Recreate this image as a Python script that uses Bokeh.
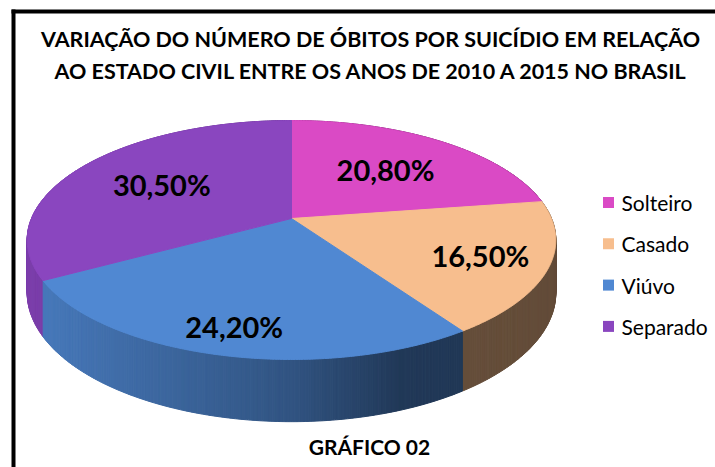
import numpy as np
from bokeh.plotting import figure
from bokeh.models import Range1d, ColumnDataSource
from bokeh.core.properties import value
from bokeh.embed import file_html
from bokeh.resources import INLINE

# ---------------- data ----------------
categories = ["Solteiro", "Casado", "Viúvo", "Separado"]
percent_values = [20.8, 16.5, 24.2, 30.5]
slice_colors = ["#DA4AC5", "#F7BE8E", "#5088D2", "#8A46BF"]
title_lines = ["VARIAÇÃO DO NÚMERO DE ÓBITOS POR SUICÍDIO EM RELAÇÃO",
               "AO ESTADO CIVIL ENTRE OS ANOS DE 2010 A 2015 NO BRASIL"]
footer_text = "GRÁFICO 02"

# ---------------- layout / style ----------------
W, H = 715, 467
CX, CY = 291.0, 218.0       # projected pie centre
A, B = 260.0, 115.6         # horizontal / vertical semi-axes
K = 0.18                    # perspective factor
DEPTH = 51.0                # thickness of the pie
label_radius = [0.60, 0.75, 0.82, 0.61]
FONT = "Lato"


def proj(u, v, depth=0.0):
    s = 1.0 / (1.0 + K * v)
    return CX + A * u * s, CY + (-B * v + depth) * s


def shade(hex_color, f):
    h = hex_color.lstrip("#")
    r, g, b = (int(h[i:i + 2], 16) for i in (0, 2, 4))
    return "#%02x%02x%02x" % (int(r * f), int(g * f), int(b * f))


total = sum(percent_values)
fracs = [v / total for v in percent_values]
bounds = np.concatenate([[0.0], np.cumsum(fracs)]) * 2 * np.pi

p = figure(width=W, height=H, output_backend="svg", toolbar_location=None,
           x_range=Range1d(0, W), y_range=Range1d(H, 0),
           min_border=0, min_border_left=0, min_border_right=0,
           min_border_top=0, min_border_bottom=0)
p.axis.visible = False
p.grid.visible = False
p.outline_line_color = None
p.background_fill_color = "white"
p.border_fill_color = "white"

# frame (left and top visible)
p.segment(x0=[13, 11], y0=[9, 11], x1=[13, W + 2], y1=[H + 2, 11],
          line_color="black", line_width=4)

# ---------------- side of the pie ----------------
step = np.radians(0.5)
thetas = np.arange(0, 2 * np.pi, step)
side = []
for t0 in thetas:
    t1 = t0 + step
    tm = (t0 + t1) / 2
    idx = int(np.searchsorted(bounds, tm, side="right") - 1)
    idx = min(idx, len(categories) - 1)
    xa, ya = proj(np.sin(t0), np.cos(t0))
    xb, yb = proj(np.sin(t1), np.cos(t1))
    xc, yc = proj(np.sin(t1), np.cos(t1), DEPTH)
    xd, yd = proj(np.sin(t0), np.cos(t0), DEPTH)
    xm = (xa + xb) / 2
    f = float(np.interp(xm, [30, 290, 400, 560], [0.90, 0.62, 0.42, 0.40]))
    side.append((np.cos(tm), [xa, xb, xc, xd], [ya, yb, yc, yd],
                 shade(slice_colors[idx], f)))
side.sort(key=lambda s: -s[0])
side_src = ColumnDataSource(dict(xs=[s[1] for s in side], ys=[s[2] for s in side],
                                 c=[s[3] for s in side]))
p.patches("xs", "ys", source=side_src, fill_color="c", line_color="c", line_width=1)

# ---------------- top face ----------------
top_xs, top_ys = [], []
for i in range(len(categories)):
    ts = np.linspace(bounds[i], bounds[i + 1], 200)
    xs, ys = proj(np.sin(ts), np.cos(ts))
    top_xs.append([CX] + list(xs))
    top_ys.append([CY] + list(ys))
top_src = ColumnDataSource(dict(xs=top_xs, ys=top_ys, c=slice_colors))
p.patches("xs", "ys", source=top_src, fill_color="c", line_color="c", line_width=1)

# ---------------- value labels ----------------
lx, ly, lt = [], [], []
for i, v in enumerate(percent_values):
    tm = (bounds[i] + bounds[i + 1]) / 2
    r = label_radius[i]
    x, y = proj(r * np.sin(tm), r * np.cos(tm))
    lx.append(x)
    ly.append(y)
    lt.append(("%.2f" % v).replace(".", ",") + "%")
p.text(x=lx, y=ly, text=lt, text_align="center", text_baseline="middle",
       text_font=value(FONT), text_font_style="bold", text_font_size="29px",
       text_color="black")

# ---------------- legend ----------------
leg_y = [202 + 41.3 * i for i in range(len(categories))]
p.scatter(x=[608] * len(categories), y=leg_y, marker="square", size=11,
          fill_color=slice_colors, line_color=None)
p.text(x=[621] * len(categories), y=leg_y, text=categories, text_align="left",
       text_baseline="middle", text_font=value(FONT), text_font_size="21px",
       text_color="black")

# ---------------- titles ----------------
p.text(x=[370, 371], y=[38, 70], text=title_lines, text_align="center",
       text_baseline="middle", text_font=value(FONT), text_font_style="bold",
       text_font_size="21.5px", text_color="black")
p.text(x=[369], y=[446], text=[footer_text], text_align="center",
       text_baseline="middle", text_font=value(FONT), text_font_style="bold",
       text_font_size="21px", text_color="black")

open("out.html", "w").write(file_html(p, INLINE))
